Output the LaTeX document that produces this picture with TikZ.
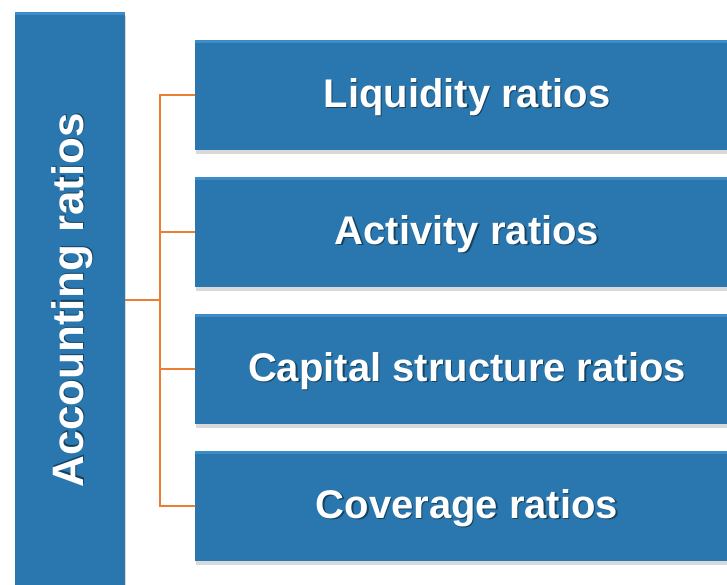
\documentclass[tikz,border=0pt]{standalone}
\usepackage{fontspec}
\setmainfont{Liberation Sans}
\usepackage{tikz}
\usetikzlibrary{positioning,shadows}
\usepackage{xcolor}
\definecolor{ratioblue}{RGB}{41,119,174}
\definecolor{ratiotop}{RGB}{62,140,199}
\definecolor{branchorange}{RGB}{237,125,49}

% white label with a darker copy just behind it
\newcommand{\shadetext}[1]{\rlap{\hspace{1.3pt}\raisebox{-1.3pt}{\textcolor{ratioblue!55!black}{#1}}}#1}

\begin{document}
\begin{tikzpicture}[
    x=1pt, y=1pt,
    node distance=26.5pt,
    ratiobox/.style={rectangle, fill=ratioblue, inner sep=0pt,
                     minimum width=544pt, minimum height=110pt,
                     text=white, font=\fontsize{40}{48}\selectfont\bfseries,
                     text height=33pt, text depth=8pt,
                     drop shadow={shadow xshift=1pt, shadow yshift=-4pt, opacity=0.3},
                     path picture={\fill[ratiotop] (path picture bounding box.north west)
                        rectangle ([yshift=-3pt]path picture bounding box.north east);}},
    mainbox/.style={ratiobox, minimum width=110pt, minimum height=576pt},
    maintext/.style={rotate=90, inner sep=0pt, text=white,
                     font=\fontsize{44}{52}\selectfont\bfseries},
    branch/.style={draw=branchorange, line width=2pt}
]
\useasboundingbox (0,0) rectangle (727,-584);

% Main category
\node[mainbox] (acc) at (70,-300) {};
\node[maintext] (acctext) at ([xshift=3pt]acc.center) {\shadetext{Accounting ratios}};

% Ratio groups
\node[ratiobox] (liq) at (467,-95) {\shadetext{Liquidity ratios}};
\node[ratiobox, below=of liq] (act) {\shadetext{Activity ratios}};
\node[ratiobox, below=of act] (cap) {\shadetext{Capital structure ratios}};
\node[ratiobox, below=of cap] (cov) {\shadetext{Coverage ratios}};

% Tree connectors
\draw[branch] (acc.east) -- ++(35,0) |- (liq.west);
\draw[branch] (acc.east) -- ++(35,0) |- (act.west);
\draw[branch] (acc.east) -- ++(35,0) |- (cap.west);
\draw[branch] (acc.east) -- ++(35,0) |- (cov.west);

\end{tikzpicture}
\end{document}
